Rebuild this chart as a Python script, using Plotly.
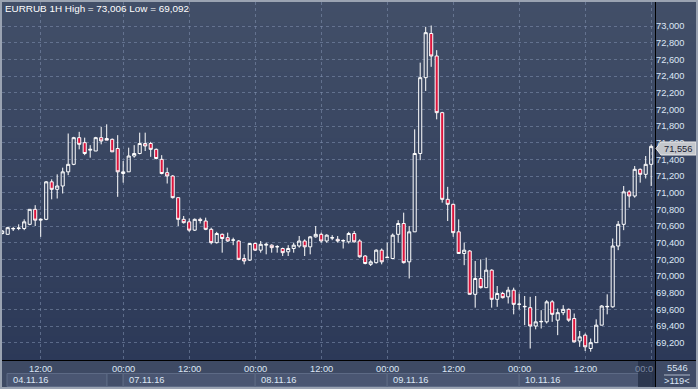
import plotly.graph_objects as go

# ---------------- data (EURRUB 1H) ----------------
bar_index = list(range(119))
open_ = [70.51, 70.50, 70.565, 70.57, 70.57, 70.62, 70.80, 70.67, 70.68, 71.13,
         71.04, 71.08, 71.25, 71.34, 71.66, 71.60, 71.51, 71.50, 71.66, 71.65,
         71.64, 71.53, 71.23, 71.25, 71.44, 71.47, 71.59, 71.59, 71.52, 71.40,
         71.24, 71.20, 70.94, 70.68, 70.65, 70.55, 70.68, 70.66, 70.56, 70.40,
         70.50, 70.46, 70.43, 70.42, 70.21, 70.19, 70.39, 70.31, 70.37, 70.37,
         70.35, 70.33, 70.29, 70.33, 70.36, 70.42, 70.35, 70.47, 70.50, 70.42,
         70.455, 70.44, 70.42, 70.41, 70.51, 70.42, 70.24, 70.14, 70.16, 70.31,
         70.22, 70.21, 70.50, 70.63, 70.17, 70.53, 71.47, 72.38, 72.91, 72.64,
         71.96, 70.92, 70.86, 70.53, 70.27, 70.30, 69.78, 69.97, 69.86, 70.07,
         69.72, 69.79, 69.75, 69.83, 69.66, 69.63, 69.62, 69.40, 69.45, 69.45,
         69.69, 69.47, 69.56, 69.60, 69.49, 69.22, 69.29, 69.13, 69.20, 69.41,
         69.63, 69.63, 70.36, 70.62, 71.01, 70.96, 71.28, 71.22, 71.34]
high = [70.55, 70.59, 70.59, 70.62, 70.68, 70.80, 70.85, 70.69, 71.14, 71.16,
        71.22, 71.30, 71.71, 71.67, 71.73, 71.66, 71.57, 71.67, 71.79, 71.82,
        71.65, 71.69, 71.38, 71.54, 71.57, 71.72, 71.72, 71.61, 71.53, 71.45,
        71.30, 71.21, 70.94, 70.72, 70.69, 70.69, 70.70, 70.70, 70.58, 70.53,
        70.51, 70.52, 70.46, 70.43, 70.26, 70.39, 70.40, 70.42, 70.40, 70.38,
        70.37, 70.34, 70.37, 70.40, 70.48, 70.44, 70.48, 70.60, 70.52, 70.50,
        70.49, 70.48, 70.44, 70.53, 70.54, 70.44, 70.25, 70.19, 70.32, 70.33,
        70.40, 70.51, 70.67, 70.76, 70.60, 71.76, 72.56, 72.99, 73.006, 72.71,
        71.97, 71.07, 70.87, 70.68, 70.40, 70.31, 70.18, 70.20, 70.22, 70.08,
        69.88, 69.81, 69.87, 69.86, 69.79, 69.76, 69.75, 69.76, 69.59, 69.71,
        69.71, 69.61, 69.65, 69.61, 69.55, 69.34, 69.31, 69.25, 69.48, 69.65,
        69.78, 70.45, 70.66, 71.08, 71.03, 71.32, 71.29, 71.44, 71.58]
low = [70.50, 70.50, 70.54, 70.55, 70.55, 70.61, 70.60, 70.47, 70.67, 70.92,
       70.93, 70.99, 71.21, 71.33, 71.52, 71.45, 71.42, 71.50, 71.58, 71.63,
       71.49, 70.95, 71.12, 71.25, 71.42, 71.46, 71.50, 71.43, 71.40, 71.22,
       71.11, 70.93, 70.60, 70.63, 70.53, 70.54, 70.63, 70.55, 70.38, 70.39,
       70.28, 70.41, 70.37, 70.19, 70.14, 70.18, 70.30, 70.28, 70.26, 70.28,
       70.28, 70.24, 70.24, 70.28, 70.34, 70.24, 70.26, 70.46, 70.40, 70.40,
       70.43, 70.40, 70.33, 70.39, 70.40, 70.22, 70.14, 70.12, 70.15, 70.14,
       70.22, 70.21, 70.40, 70.15, 69.97, 70.53, 71.39, 72.22, 72.51, 71.88,
       70.88, 70.66, 70.47, 70.27, 70.13, 69.78, 69.62, 69.85, 69.86, 69.62,
       69.63, 69.73, 69.67, 69.54, 69.60, 69.41, 69.13, 69.36, 69.37, 69.43,
       69.45, 69.29, 69.53, 69.45, 69.20, 69.15, 69.10, 69.092, 69.20, 69.41,
       69.54, 69.62, 70.31, 70.55, 70.82, 70.94, 71.12, 71.17, 71.08]
close = [70.54, 70.58, 70.57, 70.575, 70.65, 70.80, 70.67, 70.68, 71.13, 71.04,
         71.08, 71.25, 71.34, 71.66, 71.58, 71.47, 71.52, 71.66, 71.62, 71.63,
         71.49, 71.25, 71.25, 71.44, 71.47, 71.59, 71.56, 71.52, 71.41, 71.23,
         71.20, 70.94, 70.68, 70.64, 70.55, 70.68, 70.665, 70.56, 70.40, 70.51,
         70.45, 70.42, 70.432, 70.20, 70.18, 70.39, 70.31, 70.38, 70.38, 70.34,
         70.352, 70.28, 70.33, 70.37, 70.42, 70.35, 70.47, 70.50, 70.42, 70.49,
         70.46, 70.42, 70.425, 70.51, 70.41, 70.23, 70.15, 70.17, 70.31, 70.17,
         70.225, 70.49, 70.63, 70.16, 70.53, 71.47, 72.38, 72.92, 72.64, 71.96,
         70.92, 70.86, 70.52, 70.27, 70.31, 69.78, 69.97, 69.86, 70.07, 69.72,
         69.79, 69.74, 69.83, 69.66, 69.662, 69.635, 69.40, 69.45, 69.455, 69.69,
         69.54, 69.56, 69.60, 69.47, 69.21, 69.27, 69.15, 69.20, 69.41, 69.64,
         69.635, 70.36, 70.62, 71.01, 70.96, 71.28, 71.22, 71.34, 71.556]

price_ticks = [69.2, 69.4, 69.6, 69.8, 70.0, 70.2, 70.4, 70.6, 70.8, 71.0,
               71.2, 71.4, 71.6, 71.8, 72.0, 72.2, 72.4, 72.6, 72.8, 73.0]
time_tick_index = [7, 22, 34, 46, 58, 70, 82, 94, 106, 118]
time_tick_text = ["12:00", "00:00", "12:00", "00:00", "12:00", "00:00",
                  "12:00", "00:00", "12:00", "00:0"]
date_start_index = [22, 46, 70, 94]
date_labels = ["07.11.16", "08.11.16", "09.11.16", "10.11.16"]
first_date_label = "04.11.16"
title_text = "EURRUB 1H High = 73,006 Low = 69,092"
last_price = close[-1]
bars_shown = ">119<"
volume_text = "5546"

# ---------------- geometry helpers ----------------
W, H = 698, 389
ML, MR, MT, MB = 2, 43, 2, 29
PW = W - ML - MR
PH = H - MT - MB


def fx(px):
    return (px - ML) / PW


def fy(py):
    return (H - MB - py) / PH


fig = go.Figure()
fig.add_trace(go.Candlestick(
    x=bar_index, open=open_, high=high, low=low, close=close,
    increasing=dict(line=dict(color="#ffffff", width=1), fillcolor="rgba(0,0,0,0)"),
    decreasing=dict(line=dict(color="#ffffff", width=1), fillcolor="#dc143c"),
    whiskerwidth=0, hoverinfo="skip", showlegend=False,
))

shapes = []
# vertical gradient background (plot + right axis panel)
top_c = (66, 79, 104)
bot_c = (44, 57, 88)
n = 60
for k in range(n):
    t = (k + 0.5) / n
    c = tuple(int(round(top_c[j] + (bot_c[j] - top_c[j]) * t)) for j in range(3))
    y0 = 360 * k / n
    y1 = 360 * (k + 1) / n + 0.6
    shapes.append(dict(type="rect", xref="paper", yref="paper", layer="below",
                       x0=fx(0), x1=fx(W), y0=fy(y1), y1=fy(y0),
                       line=dict(width=0), fillcolor="rgb(%d,%d,%d)" % c))
# time axis band
shapes.append(dict(type="rect", xref="paper", yref="paper", layer="below",
                   x0=fx(0), x1=fx(W), y0=fy(H), y1=fy(360),
                   line=dict(width=0), fillcolor="#3e4a64"))
# date row boxes
date_row = dict(y0=fy(386.5), y1=fy(373.5))
shapes.append(dict(type="rect", xref="paper", yref="paper", layer="below",
                   x0=fx(7), x1=fx(107), **date_row,
                   line=dict(width=1, color="#5d6a85"), fillcolor="#4a5672"))
shapes.append(dict(type="rect", xref="paper", yref="paper", layer="below",
                   x0=fx(107), x1=fx(2.2 + 5.5 * 22), **date_row,
                   line=dict(width=1, color="#5d6a85"), fillcolor="#434f6a"))
bounds = date_start_index + [118]
for a, b in zip(bounds[:-1], bounds[1:]):
    shapes.append(dict(type="rect", xref="x", yref="paper", layer="below",
                       x0=a, x1=b, **date_row,
                       line=dict(width=1, color="#5d6a85"), fillcolor="#4a5672"))
# dark scroll block at right end of time axis
shapes.append(dict(type="rect", xref="paper", yref="paper", layer="above",
                   x0=fx(638), x1=fx(655), y0=fy(387), y1=fy(361),
                   line=dict(width=0), fillcolor="rgba(35,45,68,0.75)"))
# bottom-right corner panel
shapes.append(dict(type="rect", xref="paper", yref="paper", layer="below",
                   x0=fx(656), x1=fx(W), y0=fy(H), y1=fy(361),
                   line=dict(width=0), fillcolor="#3f4b66"))
shapes.append(dict(type="line", xref="paper", yref="paper", layer="above",
                   x0=fx(664), x1=fx(690), y0=fy(375), y1=fy(375),
                   line=dict(width=1, color="#aeb8c8")))
# black separators
shapes.append(dict(type="line", xref="paper", yref="paper", layer="above",
                   x0=fx(655.5), x1=fx(655.5), y0=fy(H), y1=fy(0),
                   line=dict(width=1, color="#000000")))
shapes.append(dict(type="line", xref="paper", yref="paper", layer="above",
                   x0=fx(0), x1=fx(W), y0=fy(360.5), y1=fy(360.5),
                   line=dict(width=1, color="#000000")))
# price tag
tag_y = 148.5
pts = [(656, tag_y), (661, tag_y - 6.5), (696, tag_y - 6.5), (696, tag_y + 6.5), (661, tag_y + 6.5)]
path = "M " + " L ".join("%f,%f" % (fx(a), fy(b)) for a, b in pts) + " Z"
shapes.append(dict(type="path", xref="paper", yref="paper", layer="above", path=path,
                   line=dict(width=1, color="#e8e8e8"), fillcolor="#c4c7cc"))
# outer frame
shapes.append(dict(type="rect", xref="paper", yref="paper", layer="above",
                   x0=fx(1), x1=fx(W - 1), y0=fy(H - 1), y1=fy(1),
                   line=dict(width=2, color="#9aa3b2"), fillcolor="rgba(0,0,0,0)"))

lab_font = dict(family="Liberation Sans, Arial, sans-serif", size=9.3, color="#dce6f5")
ann = []
ann.append(dict(text=title_text, xref="paper", yref="paper", x=fx(3), y=fy(8.5),
                xanchor="left", yanchor="middle", showarrow=False,
                font=dict(family="Liberation Sans, Arial, sans-serif",
                          size=9.9, color="#ffffff")))
for i, t in zip(time_tick_index, time_tick_text):
    if t == "00:0":
        ann.append(dict(text=t, xref="paper", yref="paper", x=fx(655), y=fy(368.5),
                        xanchor="right", yanchor="middle", showarrow=False,
                        font=dict(family=lab_font["family"], size=9.3, color="#7d8aa3")))
    else:
        ann.append(dict(text=t, xref="x", yref="paper", x=i, y=fy(368.5),
                        xanchor="center", yanchor="middle", showarrow=False, font=lab_font))
ann.append(dict(text=first_date_label, xref="paper", yref="paper", x=fx(10.5), y=fy(380),
                xanchor="left", yanchor="middle", showarrow=False, font=lab_font))
for i, t in zip(date_start_index, date_labels):
    ann.append(dict(text=t, xref="x", yref="paper", x=i, y=fy(380), xshift=3.5,
                    xanchor="left", yanchor="middle", showarrow=False, font=lab_font))
ann.append(dict(text=f"{last_price:.3f}".replace(".", ","), xref="paper", yref="paper",
                x=fx(662), y=fy(tag_y), xanchor="left", yanchor="middle", showarrow=False,
                font=dict(family=lab_font["family"], size=9.3, color="#1c2233")))
ann.append(dict(text=volume_text, xref="paper", yref="paper", x=fx(677), y=fy(368),
                xanchor="center", yanchor="middle", showarrow=False, font=lab_font))
ann.append(dict(text=bars_shown.replace("<", "&lt;").replace(">", "&gt;"), xref="paper", yref="paper",
                x=fx(677), y=fy(381), xanchor="center", yanchor="middle", showarrow=False,
                font=lab_font))

grid_c = "rgba(130,146,176,0.55)"
fig.update_layout(
    width=W, height=H,
    margin=dict(l=ML, r=MR, t=MT, b=MB, pad=0),
    paper_bgcolor="#36435f", plot_bgcolor="rgba(0,0,0,0)",
    separators=", ", showlegend=False, hovermode=False, boxgap=0.2,
    shapes=shapes, annotations=ann,
    xaxis=dict(range=[-0.036, 118.69], rangeslider=dict(visible=False),
               tickvals=time_tick_index, showticklabels=False, ticks="",
               showgrid=True, gridcolor=grid_c, griddash="3px,3px", gridwidth=1,
               zeroline=False, showline=False, fixedrange=True),
    yaxis=dict(range=[68.992, 73.288], side="right", tickvals=price_ticks,
               tickformat=".3f", tickfont=lab_font, ticks="", ticklen=0,
               showgrid=True, gridcolor=grid_c, griddash="3px,3px", gridwidth=1,
               zeroline=False, showline=False, fixedrange=True),
)

fig.write_html("out.html", config={"displayModeBar": False, "staticPlot": True},
               post_script="document.body.style.margin='0px';document.body.style.overflow='hidden';")
